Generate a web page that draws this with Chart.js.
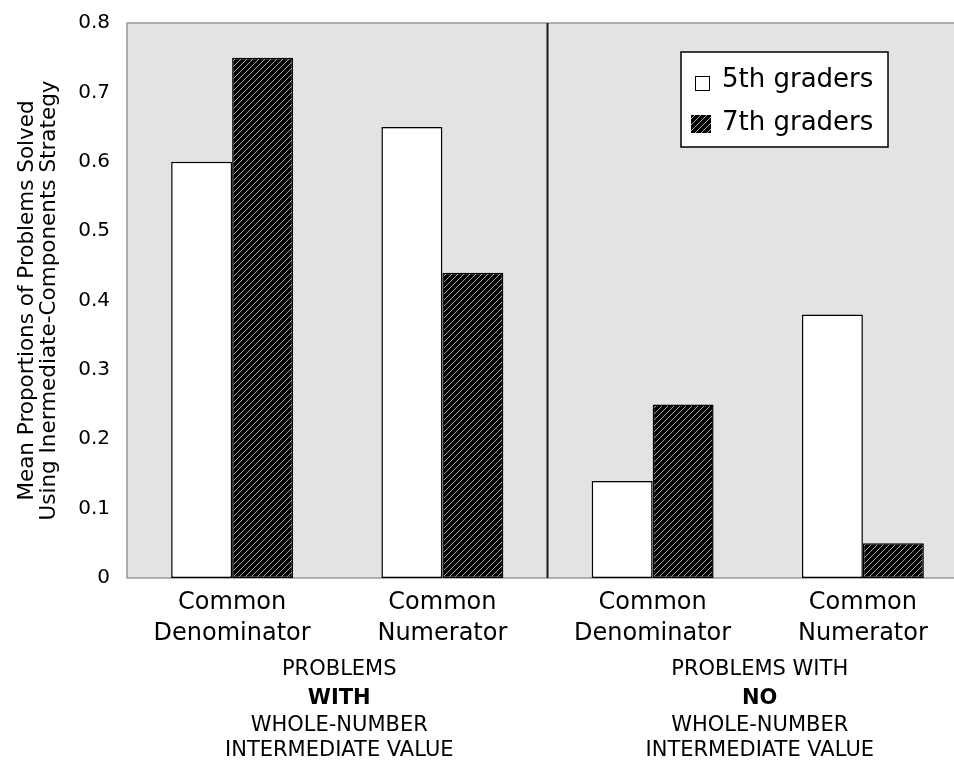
<!DOCTYPE html>
<html>
<head>
<meta charset="utf-8">
<script src="https://cdn.jsdelivr.net/npm/chart.js@4"></script>
<style>
  html, body { margin: 0; padding: 0; background: #fff; overflow: hidden; }
  #wrap { width: 954px; height: 762px; overflow: hidden; }
</style>
</head>
<body>
<div id="wrap"><canvas id="chart" width="968" height="762"></canvas></div>
<script>
// data
const categories = [
  ["Common", "Denominator"],
  ["Common", "Numerator"],
  ["Common", "Denominator"],
  ["Common", "Numerator"]
];
const seriesNames = ["5th graders", "7th graders"];
const fifthGraders = [0.60, 0.65, 0.14, 0.38];
const seventhGraders = [0.75, 0.44, 0.25, 0.05];
const yTicks = [0, 0.1, 0.2, 0.3, 0.4, 0.5, 0.6, 0.7, 0.8];
const yTitle = ["Mean Proportions of Problems Solved", "Using Inermediate-Components Strategy"];
const groupLabels = [
  ["PROBLEMS", "WITH", "WHOLE-NUMBER", "INTERMEDIATE VALUE"],
  ["PROBLEMS WITH", "NO", "WHOLE-NUMBER", "INTERMEDIATE VALUE"]
];

Chart.defaults.font.family = "'DejaVu Sans', sans-serif";
Chart.defaults.color = "#000";

// black with thin light diagonal stripes
function makeHatch() {
  const n = 6;
  const c = document.createElement("canvas");
  c.width = n;
  c.height = n;
  const g = c.getContext("2d");
  g.fillStyle = "#000";
  g.fillRect(0, 0, n, n);
  g.fillStyle = "#a8a8a8";
  for (let i = 0; i < n; i++) g.fillRect(i, n - 1 - i, 1, 1);
  return g.createPattern(c, "repeat");
}
const hatch = makeHatch();

const plotDecor = {
  id: "plotDecor",
  beforeDatasetsDraw(chart) {
    const { ctx, chartArea: a } = chart;
    ctx.save();
    ctx.fillStyle = "#e3e3e3";
    ctx.fillRect(a.left, a.top, a.right - a.left, a.bottom - a.top);
    ctx.strokeStyle = "#999";
    ctx.lineWidth = 1.5;
    ctx.beginPath();
    ctx.moveTo(a.right, a.top);
    ctx.lineTo(a.left, a.top);
    ctx.lineTo(a.left, a.bottom);
    ctx.lineTo(a.right, a.bottom);
    ctx.stroke();
    ctx.restore();
  },
  afterDraw(chart) {
    const { ctx, chartArea: a } = chart;
    const x = chart.scales.x;
    ctx.save();
    // divider between the two problem groups
    const mid = (x.getPixelForValue(1) + x.getPixelForValue(2)) / 2;
    ctx.strokeStyle = "#1a1a1a";
    ctx.lineWidth = 2;
    ctx.beginPath();
    ctx.moveTo(mid, a.top);
    ctx.lineTo(mid, a.bottom);
    ctx.stroke();

    // group captions under the category labels
    ctx.textAlign = "center";
    ctx.textBaseline = "middle";
    ctx.fillStyle = "#000";
    const lineYs = [670, 699, 726, 751];
    groupLabels.forEach((lines, gi) => {
      const cx = (x.getPixelForValue(gi * 2) + x.getPixelForValue(gi * 2 + 1)) / 2 + 2;
      lines.forEach((t, li) => {
        ctx.font = (li === 1 ? "bold " : "") + "21px 'DejaVu Sans', sans-serif";
        ctx.fillText(t, cx, lineYs[li]);
      });
    });

    // legend box
    ctx.fillStyle = "#fff";
    ctx.fillRect(681, 52, 207, 95);
    ctx.strokeStyle = "#000";
    ctx.lineWidth = 1.5;
    ctx.strokeRect(681, 52, 207, 95);
    ctx.font = "26px 'DejaVu Sans', sans-serif";
    ctx.textAlign = "left";
    const rows = [80, 123];
    chart.data.datasets.forEach((ds, i) => {
      const y = rows[i];
      ctx.fillStyle = ds.backgroundColor;
      if (i === 0) {
        ctx.fillRect(695, y - 4, 14, 14);
        ctx.lineWidth = 1;
        ctx.strokeRect(695.5, y - 3.5, 14, 14);
      } else {
        ctx.fillRect(691, y - 8, 20, 18);
      }
      ctx.fillStyle = "#000";
      ctx.fillText(ds.label, 722, y);
    });
    ctx.restore();
  }
};

new Chart(document.getElementById("chart"), {
  type: "bar",
  data: {
    labels: categories,
    datasets: [
      {
        label: seriesNames[0],
        data: fifthGraders,
        backgroundColor: "#fff",
        borderColor: "#000",
        borderWidth: 1.5,
        borderSkipped: false
      },
      {
        label: seriesNames[1],
        data: seventhGraders,
        backgroundColor: hatch,
        borderColor: "#000",
        borderWidth: 1.5,
        borderSkipped: false
      }
    ]
  },
  options: {
    responsive: false,
    animation: false,
    devicePixelRatio: 1,
    layout: { padding: 0 },
    datasets: { bar: { categoryPercentage: 0.58, barPercentage: 1.0 } },
    plugins: {
      legend: { display: false },
      tooltip: { enabled: false }
    },
    scales: {
      x: {
        grid: { display: false, drawTicks: false },
        border: { display: false },
        ticks: { font: { size: 24, lineHeight: 1.3 }, padding: 9, maxRotation: 0, autoSkip: false },
        afterFit(scale) { scale.height = 184; }
      },
      y: {
        min: 0,
        max: 0.8,
        afterBuildTicks(scale) { scale.ticks = yTicks.map(v => ({ value: v })); },
        grid: { display: false, drawTicks: false },
        border: { display: false },
        ticks: { font: { size: 20 }, padding: 17 },
        title: {
          display: true,
          text: yTitle,
          font: { size: 21.5, lineHeight: 1.0 },
          padding: { top: 17, bottom: 0 }
        },
        afterFit(scale) {
          scale.width = 127;
          scale.paddingTop = 23;
          scale.paddingBottom = 0;
        }
      }
    }
  },
  plugins: [plotDecor]
});
</script>
</body>
</html>
